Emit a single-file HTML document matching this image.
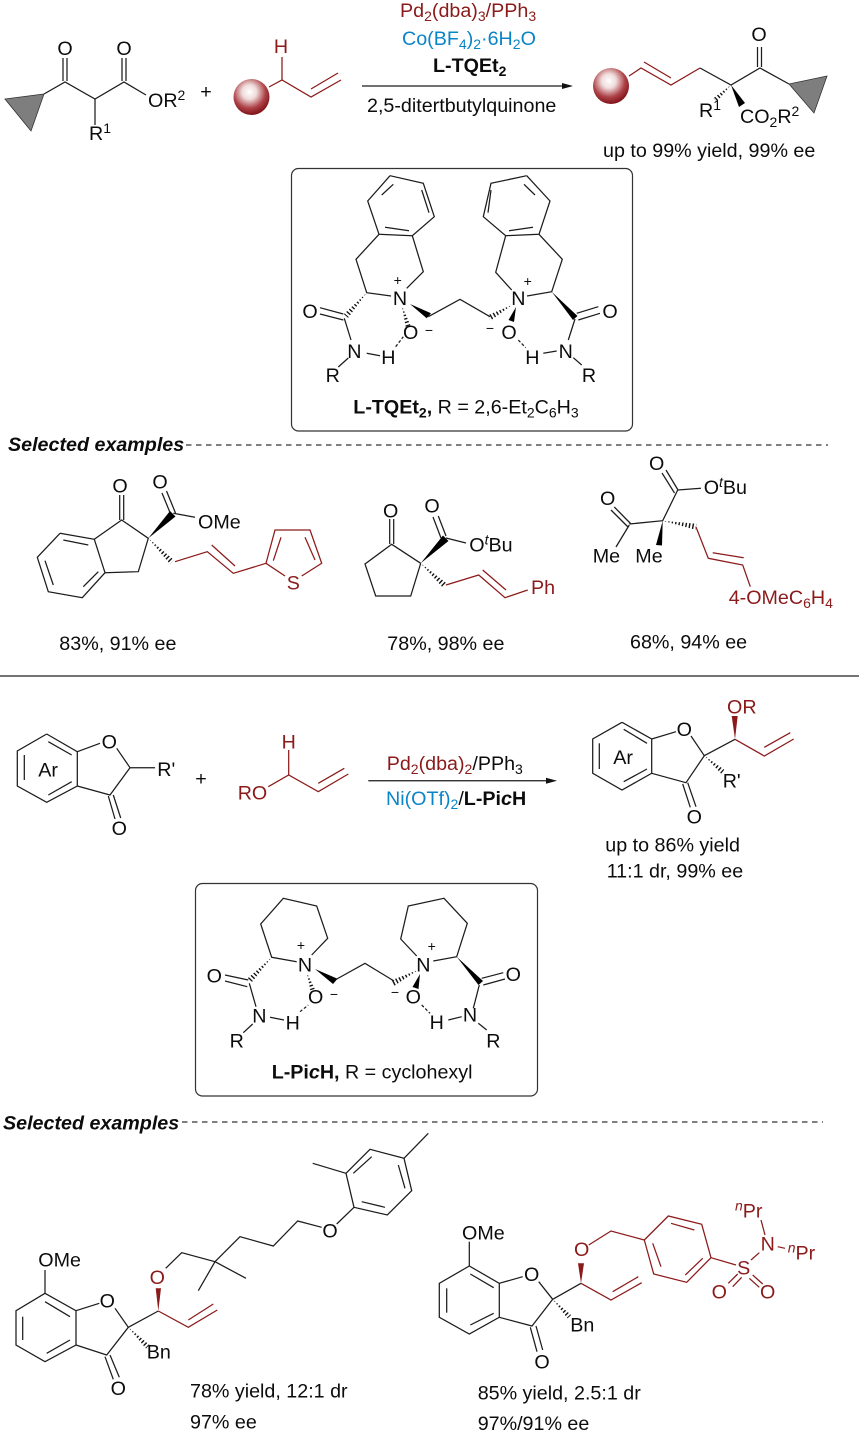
<!DOCTYPE html>
<html><head><meta charset="utf-8">
<style>
html,body{margin:0;padding:0;background:#fff}
svg{display:block}
text{font-family:"Liberation Sans",Arial,sans-serif;font-size:19.7px;fill:#0c0c0c}
.c{text-anchor:middle}
.r{fill:#8b1a1a}.u{fill:#0a84c8}.k{fill:#111}
.bd{font-weight:bold}
.sm{font-size:14px}
.bi{font-weight:bold;font-style:italic}
.i{font-style:italic}
.sw line,.sw polyline{stroke:#1c1c1c;stroke-width:1.25;fill:none}
.rw line,.rw polyline{stroke:#8b1a1a;stroke-width:1.25;fill:none}
.h line{stroke:#fff;stroke-width:9;stroke-dasharray:2.1 1.4}
.h polygon{fill:#111}
</style></head><body>
<svg width="862" height="1435" viewBox="0 0 862 1435" xmlns="http://www.w3.org/2000/svg">
<defs>
<radialGradient id="g" cx="44%" cy="36%" r="66%">
<stop offset="0" stop-color="#ffffff"/><stop offset=".3" stop-color="#f0dcdc"/><stop offset=".68" stop-color="#ad4247"/><stop offset="1" stop-color="#7c0d14"/>
</radialGradient>
</defs>
<!-- hashed bonds -->
<g class="h">
<polygon points="731,85 716.7,101.8 713.3,98.2"/><line x1="731" y1="85" x2="715" y2="100"/>
<polygon points="366.7,292.7 348.1,317.9 343.9,314.1"/><line x1="366.7" y1="292.7" x2="346" y2="316"/>
<polygon points="402,306 410.4,325.3 405.6,326.7"/><line x1="402" y1="306" x2="408" y2="326"/>
<polygon points="512,305 490.5,320.6 487.5,315.4"/><line x1="512" y1="305" x2="489" y2="318"/>
<polygon points="271.7,957.3 252.1,981.9 247.9,978.1"/><line x1="271.7" y1="957.3" x2="250" y2="980"/>
<polygon points="307,973 315.4,990.3 310.6,991.7"/><line x1="307" y1="973" x2="313" y2="991"/>
<polygon points="418,970 394.4,985.7 391.6,980.3"/><line x1="418" y1="970" x2="393" y2="983"/>
<polygon points="148.3,538.3 174,560 170,564"/><line x1="148.3" y1="538.3" x2="172" y2="562"/>
<polygon points="420.7,563.3 446.3,583 442.3,587"/><line x1="420.7" y1="563.3" x2="444.3" y2="585"/>
<polygon points="662.7,520.7 695.5,529.7 696.5,523.7"/><line x1="662.7" y1="520.7" x2="696" y2="526.7"/>
<polygon points="704.3,755.7 724.3,769.8 721.1,773.6"/><line x1="704.3" y1="755.7" x2="722.7" y2="771.7"/>
<polygon points="128.3,1327.3 149.5,1344.9 145.9,1348.5"/><line x1="128.3" y1="1327.3" x2="147.7" y2="1346.7"/>
<polygon points="552.7,1299.3 571.1,1315 567.5,1318.4"/><line x1="552.7" y1="1299.3" x2="569.3" y2="1316.7"/>
</g>
<!-- boxes and separators -->
<rect x="291.5" y="168.5" width="341" height="262.5" rx="7" fill="none" stroke="#333" stroke-width="1.2"/>
<rect x="195.5" y="883.5" width="342" height="212.5" rx="7" fill="none" stroke="#333" stroke-width="1.2"/>
<line x1="0" y1="676" x2="859" y2="676" stroke="#222" stroke-width="1.3"/>
<line x1="186" y1="445" x2="828" y2="445" stroke="#333" stroke-width="1.2" stroke-dasharray="5.5 4.5"/>
<line x1="182" y1="1122" x2="823" y2="1122" stroke="#333" stroke-width="1.2" stroke-dasharray="5.5 4.5"/>

<g class="sw">
<!-- top reagent -->
<polyline points="44,94 65,82 95,99 124,82 146,95"/>
<line x1="63" y1="58" x2="63" y2="81"/><line x1="67" y1="58" x2="67" y2="81"/>
<line x1="122" y1="58" x2="122" y2="81"/><line x1="126" y1="58" x2="126" y2="81"/>
<line x1="95" y1="99" x2="95" y2="125"/>
<line x1="362" y1="86" x2="564" y2="86"/>
<!-- product -->
<polyline points="700,68 731,85 760,68 789,84"/>
<line x1="757.5" y1="47" x2="757.5" y2="67"/><line x1="761.5" y1="47" x2="761.5" y2="67"/>
<!-- ligand 1 -->
<polyline points="390,175.7 423.3,183.3 434.3,216.7 412.3,235.7 379,234.3 367.7,201 390,175.7"/>
<line x1="381.7" y1="195" x2="393.3" y2="184.3"/><line x1="421.7" y1="190" x2="429" y2="212.7"/><line x1="385" y1="227.3" x2="409" y2="230.7"/>
<polyline points="379,234.3 356,259.3 366.7,292.7 391,296"/>
<polyline points="412.3,235.7 423.3,271.7 406.7,288.3"/>
<polyline points="428.3,316.7 460,299.3 490,316.7"/>
<line x1="320" y1="307.7" x2="343.3" y2="314"/><line x1="320" y1="314" x2="343.3" y2="320"/>
<line x1="344.3" y1="318.3" x2="351" y2="340"/><line x1="366.7" y1="353.3" x2="380" y2="355.7"/><line x1="348.3" y1="358" x2="338.3" y2="367"/>
<line x1="395.7" y1="346.7" x2="403.3" y2="336.7" stroke-dasharray="3 2"/>
<polyline points="526.7,175.7 491,183.3 483.3,216.7 505.7,235.7 539,234.3 550,201 526.7,175.7"/>
<line x1="535" y1="195" x2="524" y2="184.3"/><line x1="491" y1="190" x2="488" y2="212.7"/><line x1="509" y1="230.7" x2="533" y2="227.3"/>
<polyline points="539,234.3 562.3,259.3 551.7,291.7 527,296"/>
<polyline points="505.7,235.7 495.7,272.3 511.7,290"/>
<line x1="576.7" y1="313.3" x2="598.3" y2="306.7"/><line x1="578.3" y1="320" x2="600" y2="313.3"/>
<line x1="575" y1="319" x2="568.3" y2="340"/><line x1="543.3" y1="353.3" x2="556.7" y2="351"/><line x1="573.3" y1="357.7" x2="581.7" y2="365"/>
<line x1="518.3" y1="340" x2="525.7" y2="347.7" stroke-dasharray="3 2"/>
<!-- compound A -->
<polyline points="60,533.3 94.3,539.3 105,572.7 82.3,597.7 48.3,591.7 37.3,557.3 60,533.3"/>
<line x1="63.3" y1="540" x2="88.3" y2="545"/><line x1="45" y1="560.7" x2="53.3" y2="585"/><line x1="83.3" y1="586.7" x2="98.3" y2="571.7"/>
<polyline points="94.3,539.3 121.7,520 148.3,538.3 138.3,571.7 105,572.7"/>
<line x1="119.7" y1="495" x2="119.7" y2="520"/><line x1="123.7" y1="495" x2="123.7" y2="520"/>
<line x1="162" y1="493" x2="171" y2="515"/><line x1="166.5" y1="491" x2="175.5" y2="513"/>
<line x1="173.3" y1="513.3" x2="195" y2="517.3"/>
<!-- compound B -->
<polyline points="420.7,563.3 391.7,544.3 365,564 375.7,596 410.7,596 420.7,563.3"/>
<line x1="389.7" y1="519" x2="389.7" y2="544"/><line x1="393.7" y1="519" x2="393.7" y2="544"/>
<line x1="433" y1="517" x2="441" y2="538"/><line x1="438.3" y1="516" x2="446" y2="536"/>
<line x1="446" y1="538" x2="466" y2="543"/>
<!-- compound C -->
<polyline points="677.7,490 662.7,520.7 629.3,524"/>
<line x1="666" y1="470" x2="678" y2="490"/><line x1="662" y1="473" x2="674.5" y2="493"/>
<line x1="677.7" y1="490" x2="701" y2="488.3"/>
<line x1="614.3" y1="507" x2="631" y2="524"/><line x1="611" y1="510" x2="628" y2="527"/>
<line x1="629.3" y1="525" x2="616" y2="547"/>
<!-- compound Ar SM -->
<polyline points="46.7,734 77.3,751.7 77.3,786 46.7,802.3 17.3,786 17.3,751 46.7,734"/>
<line x1="48.3" y1="741.7" x2="71.7" y2="755"/><line x1="24.3" y1="755" x2="24.3" y2="780"/><line x1="48.3" y1="795" x2="71.7" y2="781.7"/>
<line x1="77.3" y1="751.7" x2="100" y2="743.3"/>
<polyline points="116.7,748.3 130,767.7 110,795 77.3,786"/>
<line x1="130" y1="767.7" x2="155" y2="767.7"/>
<line x1="108.3" y1="796" x2="115" y2="819"/><line x1="113.3" y1="795" x2="120.7" y2="818"/>
<line x1="368.3" y1="780.7" x2="548" y2="780.7"/>
<!-- product 2 -->
<polyline points="622,722.3 651.7,739 651.7,773.3 622,790 592.7,773.3 592.7,739 622,722.3"/>
<line x1="623.7" y1="729.3" x2="647" y2="743.3"/><line x1="599.3" y1="743.3" x2="599.3" y2="769"/><line x1="623.7" y1="781.7" x2="647" y2="769"/>
<line x1="651.7" y1="739" x2="676" y2="731.7"/>
<polyline points="691,736 704.3,755.7 686,782.7 651.7,773.3"/>
<line x1="704.3" y1="755.7" x2="735" y2="739.3"/>
<line x1="682.7" y1="784" x2="690.3" y2="807.3"/><line x1="687.7" y1="782.7" x2="696" y2="806.7"/>
<!-- ligand 2 -->
<polyline points="296.7,961.7 271.7,957.3 260.7,924 283.3,898.3 316.7,906 327.7,938.3 311.7,955"/>
<line x1="225" y1="975" x2="248.3" y2="980"/><line x1="225" y1="981" x2="247.3" y2="986.7"/>
<line x1="249.3" y1="983.3" x2="256" y2="1006.7"/><line x1="270" y1="1017.3" x2="284" y2="1020"/><line x1="252.7" y1="1024" x2="243.3" y2="1032.7"/>
<line x1="300" y1="1011.7" x2="308.3" y2="1005" stroke-dasharray="3 2"/>
<polyline points="335,980 365,963.3 394,981"/>
<polyline points="433.3,961 456.7,956.7 467.3,923.3 444,898.3 408.3,906 400.7,939 416.7,956"/>
<line x1="481.7" y1="978.3" x2="503.3" y2="972.7"/><line x1="483.3" y1="985" x2="505" y2="979"/>
<line x1="479.3" y1="985" x2="473.3" y2="1008.3"/><line x1="448.3" y1="1020" x2="461.7" y2="1016.7"/><line x1="478.3" y1="1023.3" x2="486.7" y2="1030"/>
<line x1="421.7" y1="1005" x2="430" y2="1013.3" stroke-dasharray="3 2"/>
<!-- compound D -->
<polyline points="45,1293.3 76,1310.7 76,1345 45,1361.7 16,1345 16,1310.7 45,1293.3"/>
<line x1="45" y1="1301.7" x2="70" y2="1316.7"/><line x1="22.7" y1="1316.7" x2="22.7" y2="1340"/><line x1="46.7" y1="1353.3" x2="70" y2="1340"/>
<line x1="45" y1="1270" x2="45" y2="1293.3"/><line x1="76" y1="1310.7" x2="99.3" y2="1303.3"/>
<polyline points="115,1308.3 128.3,1327.3 106.7,1355 76,1345"/>
<line x1="105" y1="1356.7" x2="113.3" y2="1379.3"/><line x1="110" y1="1355" x2="119.3" y2="1377.3"/>
<line x1="128.3" y1="1327.3" x2="158.3" y2="1311"/>
<polyline points="165.7,1268.3 181.7,1252.7 215,1261.7 240,1236.7 273.3,1246 297.7,1221 321.7,1227.3"/>
<line x1="215" y1="1261.7" x2="198.3" y2="1290.7"/><line x1="215" y1="1261.7" x2="246" y2="1278.3"/>
<line x1="336.7" y1="1224" x2="354" y2="1207.3"/>
<polyline points="354,1207.3 346,1173.3 370,1149.3 404,1158.3 411.7,1190.7 387.3,1215 354,1207.3"/>
<line x1="353.3" y1="1173.3" x2="371.7" y2="1156.7"/><line x1="398.3" y1="1165" x2="405" y2="1188.3"/><line x1="361.7" y1="1201.7" x2="385" y2="1207.3"/>
<line x1="346" y1="1173.3" x2="312.7" y2="1163.3"/><line x1="404" y1="1158.3" x2="428.3" y2="1133.3"/>
<!-- compound E -->
<polyline points="469.3,1266 499.3,1283.3 499.3,1317.3 469.3,1334 439.3,1317.3 439.3,1283.3 469.3,1266"/>
<line x1="470.3" y1="1274" x2="493.7" y2="1287.7"/><line x1="446.7" y1="1288.3" x2="446.7" y2="1312.7"/><line x1="470.3" y1="1325" x2="493.7" y2="1313.3"/>
<line x1="469.3" y1="1241.7" x2="469.3" y2="1266"/><line x1="499.3" y1="1283.3" x2="522.7" y2="1276.7"/>
<polyline points="538.7,1281.7 552.7,1299.3 532,1326 499.3,1317.3"/>
<line x1="530.3" y1="1327.3" x2="537" y2="1351.7"/><line x1="536" y1="1326" x2="542.7" y2="1350"/>
<line x1="552.7" y1="1299.3" x2="581" y2="1283.3"/>
</g>

<g class="rw">
<polyline points="269,87 282,80 311,97 341,80"/><line x1="311" y1="89" x2="338" y2="73"/><line x1="282" y1="57" x2="282" y2="80"/>
<polyline points="629,76 641,68 671,85 700,68"/><line x1="644" y1="62" x2="671" y2="78"/>
<polyline points="175,561.7 207.3,551.7 233.3,573.3 266,563.3 275,530 310,530 321.7,563.3 301.7,576"/>
<line x1="211.7" y1="545" x2="235" y2="566"/><line x1="266" y1="563.3" x2="285" y2="576"/>
<line x1="281" y1="537.3" x2="273.3" y2="560.7"/><line x1="305" y1="537.3" x2="315" y2="560"/>
<polyline points="446,585 478.7,575 505,597.7 527.7,590"/><line x1="482.7" y1="570" x2="506" y2="590"/>
<polyline points="696,527 708.3,558.3 742.7,565 750.3,586.7"/><line x1="712.7" y1="552.7" x2="743.7" y2="557.7"/>
<line x1="288.7" y1="750" x2="288.7" y2="775"/>
<polyline points="268.3,786.7 288.7,775 318.3,791.7 348.3,774"/><line x1="318.3" y1="783.3" x2="344.3" y2="768.3"/>
<polyline points="735,739.3 764.3,756 793.7,739"/><line x1="764.3" y1="747.3" x2="790.3" y2="732.7"/>
<polyline points="158.3,1311 188.3,1327.3 217.3,1310"/><line x1="188.3" y1="1320" x2="213.3" y2="1304"/>
<polyline points="581,1283.3 611,1300 641.7,1282.7"/><line x1="612.7" y1="1291.7" x2="638.3" y2="1276.7"/>
<polyline points="588.7,1245 611,1231 644.3,1240 668.3,1216 701.7,1224.3 711,1257.7 686.7,1282.3 653.7,1274 644.3,1240"/>
<line x1="671" y1="1223.3" x2="694.3" y2="1230"/><line x1="702.7" y1="1258.3" x2="685.3" y2="1275"/><line x1="652.7" y1="1243.3" x2="661" y2="1266.7"/>
<line x1="711" y1="1257.7" x2="736" y2="1265"/>
<line x1="728.3" y1="1283.3" x2="737.7" y2="1274"/><line x1="732.7" y1="1286.7" x2="741.7" y2="1277.3"/>
<line x1="752.7" y1="1275" x2="762.7" y2="1284"/><line x1="749.3" y1="1278.3" x2="759.3" y2="1287.3"/>
<line x1="751" y1="1260" x2="759.3" y2="1252.7"/><line x1="765" y1="1235" x2="761" y2="1220"/><line x1="777.7" y1="1246.7" x2="785" y2="1248.3"/>
</g>

<!-- wedges, arrowheads, shapes -->
<polygon points="5,99 44,94 31,131" fill="#7e7e7e" stroke="#333" stroke-width=".8"/>
<polygon points="789,84 827,76 814,113" fill="#7e7e7e" stroke="#333" stroke-width=".8"/>
<circle cx="251.5" cy="97" r="18" fill="url(#g)"/>
<circle cx="611" cy="86" r="18" fill="url(#g)"/>
<polygon points="562,83 573,86 562,89" fill="#111"/>
<polygon points="546,777.7 557,780.7 546,783.7" fill="#111"/>
<g fill="#000">
<polygon points="731,85 739,107 745,103"/>
<polygon points="410,304 426.7,318.3 431,313.3"/>
<polygon points="551.7,291.7 573,320 577.5,316"/>
<polygon points="516,307 508.5,320 514,322"/>
<polygon points="315,969 333,984 337.5,978.7"/>
<polygon points="456.7,956.7 478.5,985 483,981"/>
<polygon points="420,974 412.5,987 418.5,989"/>
<polygon points="148.3,538.3 170,511 175.5,516.5"/>
<polygon points="420.7,563.3 443,535.5 448.5,541"/>
<polygon points="662.7,520.7 656,545 662,545.5"/>
</g>
<g fill="#8b1a1a">
<polygon points="735,739.3 731.7,716 737.7,716"/>
<polygon points="158.3,1311 155.7,1288.3 161,1288.3"/>
<polygon points="581,1283.3 578,1263.3 584,1263.3"/>
</g>

<!-- text top -->
<text class="c" x="65" y="55">O</text><text class="c" x="124" y="55">O</text>
<text x="148" y="107">OR<tspan class="sm" dy="-7">2</tspan></text>
<text x="89" y="140">R<tspan class="sm" dy="-7">1</tspan></text>
<text class="c" x="206" y="98">+</text>
<text class="c r" x="281" y="53">H</text>
<text x="400" y="17"><tspan class="r">Pd</tspan><tspan class="r sm" dy="4">2</tspan><tspan class="r" dy="-4">(dba)</tspan><tspan class="r sm" dy="4">3</tspan><tspan class="r" dy="-4">/PPh</tspan><tspan class="r sm" dy="4">3</tspan></text>
<text x="402" y="45"><tspan class="u">Co(BF</tspan><tspan class="u sm" dy="4">4</tspan><tspan class="u" dy="-4">)</tspan><tspan class="u sm" dy="4">2</tspan><tspan class="u" dy="-4">·6H</tspan><tspan class="u sm" dy="4">2</tspan><tspan class="u" dy="-4">O</tspan></text>
<text x="433" y="72" class="bd">L-TQEt<tspan class="sm bd" dy="4">2</tspan></text>
<text x="367" y="112">2,5-ditertbutylquinone</text>
<text class="c" x="759" y="41">O</text>
<text x="699" y="117">R<tspan class="sm" dy="-7">1</tspan></text>
<text x="740" y="123">CO<tspan class="sm" dy="4">2</tspan><tspan dy="-4">R</tspan><tspan class="sm" dy="-7">2</tspan></text>
<text x="603" y="157">up to 99% yield, 99% ee</text>

<!-- ligand 1 text -->
<text class="c" x="400" y="305">N</text><text class="c sm" x="397.7" y="285">+</text>
<text class="c" x="518.3" y="305">N</text><text class="c sm" x="527.7" y="286">+</text>
<text class="c" x="310" y="318">O</text><text class="c" x="354.3" y="358">N</text><text class="c" x="388.3" y="364">H</text>
<text class="c" x="332.7" y="382">R</text><text class="c" x="410.7" y="339">O</text><text class="c sm" x="429" y="335">−</text>
<text class="c" x="610" y="318">O</text><text class="c" x="565.7" y="358">N</text><text class="c" x="532.3" y="364">H</text>
<text class="c" x="589" y="382">R</text><text class="c" x="509" y="339">O</text><text class="c sm" x="490" y="333">−</text>
<text x="353.3" y="413.3"><tspan class="bd">L-TQEt</tspan><tspan class="bd sm" dy="4">2</tspan><tspan class="bd" dy="-4">,</tspan> R = 2,6-Et<tspan class="sm" dy="4">2</tspan><tspan dy="-4">C</tspan><tspan class="sm" dy="4">6</tspan><tspan dy="-4">H</tspan><tspan class="sm" dy="4">3</tspan></text>

<text class="bi" x="8" y="451">Selected examples</text>

<!-- A -->
<text class="c" x="120" y="492.5">O</text><text class="c" x="160" y="488.3">O</text><text x="198" y="528.3">OMe</text>
<text class="c r" x="293.3" y="589.3">S</text><text x="59.3" y="650">83%, 91% ee</text>
<!-- B -->
<text class="c" x="390.7" y="517.3">O</text><text class="c" x="432" y="512.7">O</text>
<text x="469.3" y="551.7">O<tspan class="sm i" dy="-7">t</tspan><tspan dy="7">Bu</tspan></text>
<text class="r" x="531" y="594">Ph</text><text x="387.3" y="650">78%, 98% ee</text>
<!-- C -->
<text class="c" x="656.7" y="470">O</text><text x="703.7" y="494">O<tspan class="sm i" dy="-7">t</tspan><tspan dy="7">Bu</tspan></text>
<text class="c" x="607.7" y="505">O</text><text x="592.7" y="562.7">Me</text><text x="635.3" y="562.7">Me</text>
<text x="728.7" y="604"><tspan class="r">4-OMeC</tspan><tspan class="r sm" dy="4">6</tspan><tspan class="r" dy="-4">H</tspan><tspan class="r sm" dy="4">4</tspan></text>
<text x="630" y="648.3">68%, 94% ee</text>

<!-- reaction 2 -->
<text class="c" x="109.3" y="748.3">O</text><text x="157.3" y="776">R'</text><text class="c" x="119.3" y="835">O</text><text x="38.3" y="776.7">Ar</text>
<text class="c" x="201" y="785">+</text>
<text class="c r" x="288.7" y="748.3">H</text><text class="r" x="237.7" y="799.3">RO</text>
<text x="386.7" y="770"><tspan class="r">Pd</tspan><tspan class="r sm" dy="4">2</tspan><tspan class="r" dy="-4">(dba)</tspan><tspan class="r sm" dy="4">2</tspan><tspan dy="-4">/PPh</tspan><tspan class="sm" dy="4">3</tspan></text>
<text x="386" y="805"><tspan class="u">Ni(OTf)</tspan><tspan class="u sm" dy="4">2</tspan><tspan dy="-4">/</tspan><tspan class="bd">L-Pi</tspan><tspan class="bi">c</tspan><tspan class="bd">H</tspan></text>
<text class="c" x="684.3" y="736">O</text><text class="c" x="694.3" y="823.3">O</text><text x="613.3" y="764">Ar</text>
<text class="r" x="727" y="713.3">OR</text><text x="722.7" y="787.7">R'</text>
<text x="605.3" y="851.7">up to 86% yield</text><text x="606.7" y="877.7">11:1 dr, 99% ee</text>

<!-- ligand 2 text -->
<text class="c" x="305" y="971.7">N</text><text class="c sm" x="301" y="950">+</text>
<text class="c" x="423.3" y="971.7">N</text><text class="c sm" x="431.7" y="951">+</text>
<text class="c" x="214.3" y="982.7">O</text><text class="c" x="259.3" y="1022.7">N</text><text class="c" x="292.7" y="1029.3">H</text>
<text class="c" x="236.7" y="1047.3">R</text><text class="c" x="315.7" y="1003.3">O</text><text class="c sm" x="334" y="999">−</text>
<text class="c" x="513.3" y="981">O</text><text class="c" x="470" y="1021.7">N</text><text class="c" x="436.7" y="1029">H</text>
<text class="c" x="493.3" y="1047.3">R</text><text class="c" x="413.3" y="1003.3">O</text><text class="c sm" x="395" y="997">−</text>
<text x="271.7" y="1078.3"><tspan class="bd">L-Pi</tspan><tspan class="bi">c</tspan><tspan class="bd">H,</tspan> R = cyclohexyl</text>

<text class="bi" x="3" y="1129.5">Selected examples</text>

<!-- D -->
<text x="38.3" y="1266.7">OMe</text><text class="c" x="107.3" y="1307.7">O</text><text class="c" x="118.3" y="1395">O</text>
<text class="c r" x="157.3" y="1284">O</text><text x="146.7" y="1358.3">Bn</text><text class="c" x="330" y="1237.3">O</text>
<text x="190" y="1397.3">78% yield, 12:1 dr</text><text x="190" y="1428.3">97% ee</text>
<!-- E -->
<text x="462" y="1239.3">OMe</text><text class="c" x="531.7" y="1281">O</text><text class="c" x="542" y="1368.3">O</text>
<text class="c r" x="581.7" y="1256">O</text><text x="570.3" y="1331.7">Bn</text>
<text class="c r" x="743.7" y="1274.3">S</text><text class="c r" x="719.3" y="1298.3">O</text><text class="c r" x="767.7" y="1298.3">O</text>
<text class="c r" x="767.7" y="1250.7">N</text>
<text x="735" y="1217.3"><tspan class="r sm i" dy="-7">n</tspan><tspan class="r" dy="7">Pr</tspan></text>
<text x="787.7" y="1259.3"><tspan class="r sm i" dy="-7">n</tspan><tspan class="r" dy="7">Pr</tspan></text>
<text x="477.7" y="1399.3">85% yield, 2.5:1 dr</text><text x="477.7" y="1430">97%/91% ee</text>
</svg>
</body></html>
